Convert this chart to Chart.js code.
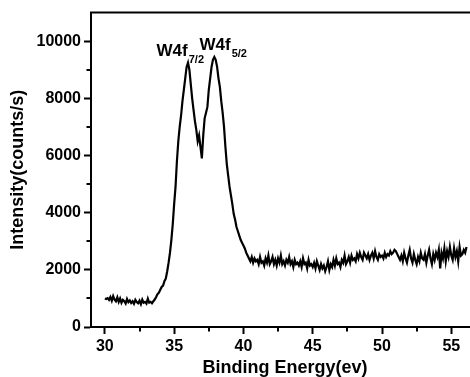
<!DOCTYPE html>
<html>
<head>
<meta charset="utf-8">
<script src="https://cdn.jsdelivr.net/npm/chart.js@4/dist/chart.umd.min.js"></script>
<style>
    html, body { margin: 0; padding: 0; background: #fff; overflow: hidden; }
    #wrap { width: 490px; height: 377px; }
</style>
</head>
<body>
<div id="wrap"><canvas id="xps" width="490" height="377"></canvas></div>
<script>
    // ─── Data ─────────────────────────────────────────────────────────────────
    // sampling grid: 30.0 eV to 56.1 eV, 0.1 eV steps
    const energyStart = 30.0;
    const energyStep  = 0.1;

    const intensity = [
        1000, 980, 1010, 950, 1050, 920, 1080, 960, 900, 1040,      // 30
        880, 1000, 850, 950, 900, 820, 980, 870, 930, 840,          // 31
        900, 810, 950, 870, 830, 920, 800, 960, 850, 880,           // 32
        820, 990, 850, 880, 830, 900, 960, 1050, 1150, 1200,        // 33
        1300, 1400, 1450, 1600, 1700, 1950, 2250, 2600, 3050, 3600, // 34
        4300, 4900, 5800, 6500, 7000, 7400, 7900, 8300, 8700, 9100, // 35
        9250, 9000, 8500, 8000, 7600, 7200, 6900, 6500, 6700, 6300, // 36
        5900, 6700, 7300, 7500, 7700, 8300, 8700, 9100, 9350, 9450, // 37
        9350, 9100, 8700, 8400, 7900, 7500, 7000, 6300, 5700, 5300, // 38
        4900, 4600, 4300, 3950, 3750, 3500, 3350, 3200, 3050, 2950, // 39
        2850, 2750, 2600, 2500, 2400, 2300, 2450, 2250, 2400, 2300, // 40
        2350, 2200, 2450, 2250, 2300, 2150, 2400, 2250, 2500, 2200, // 41
        2300, 2450, 2200, 2350, 2150, 2400, 2250, 2500, 2200, 2300, // 42
        2150, 2350, 2250, 2450, 2200, 2300, 2100, 2350, 2200, 2250, // 43
        2150, 2300, 2100, 2400, 2200, 2250, 2050, 2350, 2150, 2200, // 44
        2100, 2250, 2050, 2300, 2150, 2000, 2200, 2050, 2150, 1950, // 45
        2100, 2300, 2000, 2200, 2100, 2350, 2150, 2400, 2200, 2250, // 46
        2100, 2350, 2250, 2500, 2200, 2300, 2450, 2250, 2500, 2350, // 47
        2400, 2300, 2550, 2400, 2600, 2450, 2350, 2600, 2500, 2400, // 48
        2550, 2350, 2500, 2600, 2400, 2650, 2450, 2350, 2550, 2450, // 49
        2500, 2400, 2600, 2450, 2550, 2500, 2650, 2550, 2600, 2700, // 50
        2650, 2550, 2450, 2350, 2500, 2300, 2600, 2400, 2250, 2500, // 51
        2700, 2400, 2250, 2550, 2350, 2200, 2450, 2300, 2600, 2400, // 52
        2350, 2550, 2250, 2500, 2700, 2400, 2200, 2550, 2350, 2600, // 53
        2450, 2700, 2050, 2600, 2400, 2750, 2300, 2650, 2450, 2800, // 54
        2500, 2350, 2750, 2450, 2650, 2300, 2800, 2500, 2550, 2700, // 55
        2600, 2800                                                  // 56
    ];

    const xTicks      = [30, 35, 40, 45, 50, 55];
    const xMinorTicks = [32.5, 37.5, 42.5, 47.5, 52.5];
    const yTicks      = [0, 2000, 4000, 6000, 8000, 10000];
    const yMinorTicks = [1000, 3000, 5000, 7000, 9000];

    // peak labels: main text, subscript, anchor (eV, counts/s) = left of text baseline
    const peakNames = ['W4f', 'W4f'];
    const peakSubs  = ['7/2', '5/2'];
    const peakAtX   = [33.73, 36.83];
    const peakAtY   = [9490, 9700];

    const FONT = "'Liberation Sans', Arial, sans-serif";

    const points = intensity.map((v, i) => ({ x: +(energyStart + i * energyStep).toFixed(1), y: v }));

    // ─── Frame, minor ticks and peak labels ───────────────────────────────────
    const decor = {
        id: 'decor',
        afterDraw(chart) {
            const { ctx, chartArea: a, scales: { x, y } } = chart;
            ctx.save();
            ctx.strokeStyle = '#000';
            ctx.lineWidth = 2;
            ctx.beginPath();
            ctx.moveTo(a.left - 1, a.top);
            ctx.lineTo(a.right, a.top);
            ctx.lineTo(a.right, a.bottom);
            ctx.stroke();

            // minor ticks
            ctx.beginPath();
            xMinorTicks.forEach(v => {
                const px = Math.round(x.getPixelForValue(v));
                ctx.moveTo(px, a.bottom);
                ctx.lineTo(px, a.bottom + 4.5);
            });
            yMinorTicks.forEach(v => {
                const py = Math.round(y.getPixelForValue(v));
                ctx.moveTo(a.left, py);
                ctx.lineTo(a.left - 4.5, py);
            });
            ctx.stroke();

            // peak labels
            ctx.fillStyle = '#000';
            ctx.textAlign = 'left';
            ctx.textBaseline = 'alphabetic';
            peakNames.forEach((name, i) => {
                const px = x.getPixelForValue(peakAtX[i]);
                const py = y.getPixelForValue(peakAtY[i]);
                ctx.font = 'bold 17px ' + FONT;
                ctx.fillText(name, px, py);
                const w = ctx.measureText(name).width;
                ctx.font = 'bold 11px ' + FONT;
                ctx.fillText(peakSubs[i], px + w + 1, py + 7);
            });
            ctx.restore();
        }
    };

    new Chart(document.getElementById('xps'), {
        type: 'line',
        data: {
            datasets: [{
                data: points,
                borderColor: '#000',
                borderWidth: 2.2,
                pointRadius: 0,
                tension: 0,
                fill: false,
            }],
        },
        options: {
            responsive: false,
            animation: false,
            layout: { padding: { top: 12, right: 11, left: 0, bottom: 0 } },
            plugins: { legend: { display: false }, tooltip: { enabled: false } },
            scales: {
                x: {
                    type: 'linear',
                    min: 29,
                    max: 57,
                    afterBuildTicks: s => { s.ticks = xTicks.map(v => ({ value: v })); },
                    afterFit: s => { s.height = 50; },
                    grid: { drawOnChartArea: false, tickLength: 7, tickWidth: 2, tickColor: '#000' },
                    border: { color: '#000', width: 2 },
                    ticks: {
                        color: '#000', padding: 3, maxRotation: 0,
                        callback: v => String(v),
                        font: { family: FONT, size: 16, weight: 'bold' },
                    },
                    title: {
                        display: true,
                        text: 'Binding Energy(ev)',
                        color: '#000',
                        padding: { top: 0, bottom: 0 },
                        font: { family: FONT, size: 18, weight: 'bold', lineHeight: 1 },
                    },
                },
                y: {
                    min: 0,
                    max: 11000,
                    afterBuildTicks: s => { s.ticks = yTicks.map(v => ({ value: v })); },
                    afterFit: s => { s.width = 91; },
                    grid: { drawOnChartArea: false, tickLength: 7, tickWidth: 2, tickColor: '#000' },
                    border: { color: '#000', width: 2 },
                    ticks: {
                        color: '#000', padding: 3,
                        callback: v => String(v),
                        font: { family: FONT, size: 16, weight: 'bold' },
                    },
                    title: {
                        display: true,
                        text: 'Intensity(counts/s)',
                        color: '#000',
                        padding: { top: 9.5, bottom: 0 },
                        font: { family: FONT, size: 18, weight: 'bold', lineHeight: 1 },
                    },
                },
            },
        },
        plugins: [decor],
    });
</script>
</body>
</html>
